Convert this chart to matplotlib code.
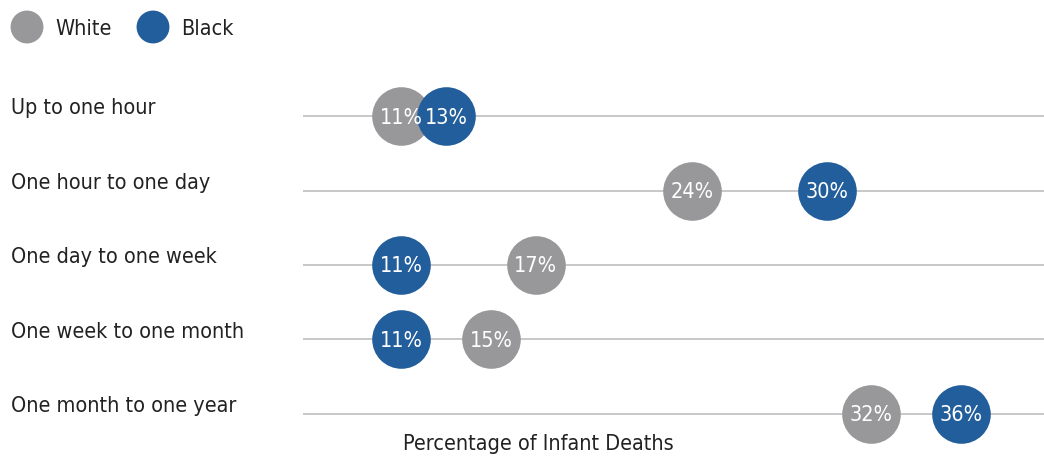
import matplotlib.pyplot as plt

periods = ["Up to one hour", "One hour to one day", "One day to one week",
           "One week to one month", "One month to one year"]
white = [11, 24, 17, 15, 32]
black = [13, 30, 11, 11, 36]

grey = "#98989a"
blue = "#225e9c"

plt.rcParams["font.family"] = "DejaVu Sans"
plt.rcParams["font.stretch"] = "condensed"

W, H = 1044, 461
fig = plt.figure(figsize=(W / 100, H / 100), dpi=100)
ax = fig.add_axes([303 / W, 1 - 451 / H, 741 / W, 372 / H])
ax.set_xlim(6.6, 39.71)
ax.set_ylim(4.5, -0.5)
ax.axis("off")

rows = range(len(periods))
for i in rows:
    ax.axhline(i, color="#c4c4c4", lw=1.3, zorder=1)

ax.scatter(white, rows, s=1780, color=grey, zorder=2, linewidths=0)
ax.scatter(black, rows, s=1780, color=blue, zorder=3, linewidths=0)
for i in rows:
    ax.text(white[i], i + 0.02, f"{white[i]}%", color="white", fontsize=15.5,
            ha="center", va="center", zorder=4)
    ax.text(black[i], i + 0.02, f"{black[i]}%", color="white", fontsize=15.5,
            ha="center", va="center", zorder=4)

for i, p in enumerate(periods):
    y = 116 + 74.5 * i - 8
    fig.text(11 / W, 1 - y / H, p, fontsize=15.5, color="#222222",
             ha="left", va="center")

fig.text(538 / W, 1 - 444 / H, "Percentage of Infant Deaths", fontsize=15.5,
         color="#222222", ha="center", va="center")

# legend
lg = fig.add_axes([0, 1 - 60 / H, 260 / W, 60 / H])
lg.set_xlim(0, 260)
lg.set_ylim(60, 0)
lg.axis("off")
lg.scatter([27, 153], [27, 27], s=560, color=[grey, blue], linewidths=0)
lg.text(55, 29, "White", fontsize=15.5, color="#222222", va="center")
lg.text(181, 29, "Black", fontsize=15.5, color="#222222", va="center")

fig.savefig("out.png", dpi=100)
